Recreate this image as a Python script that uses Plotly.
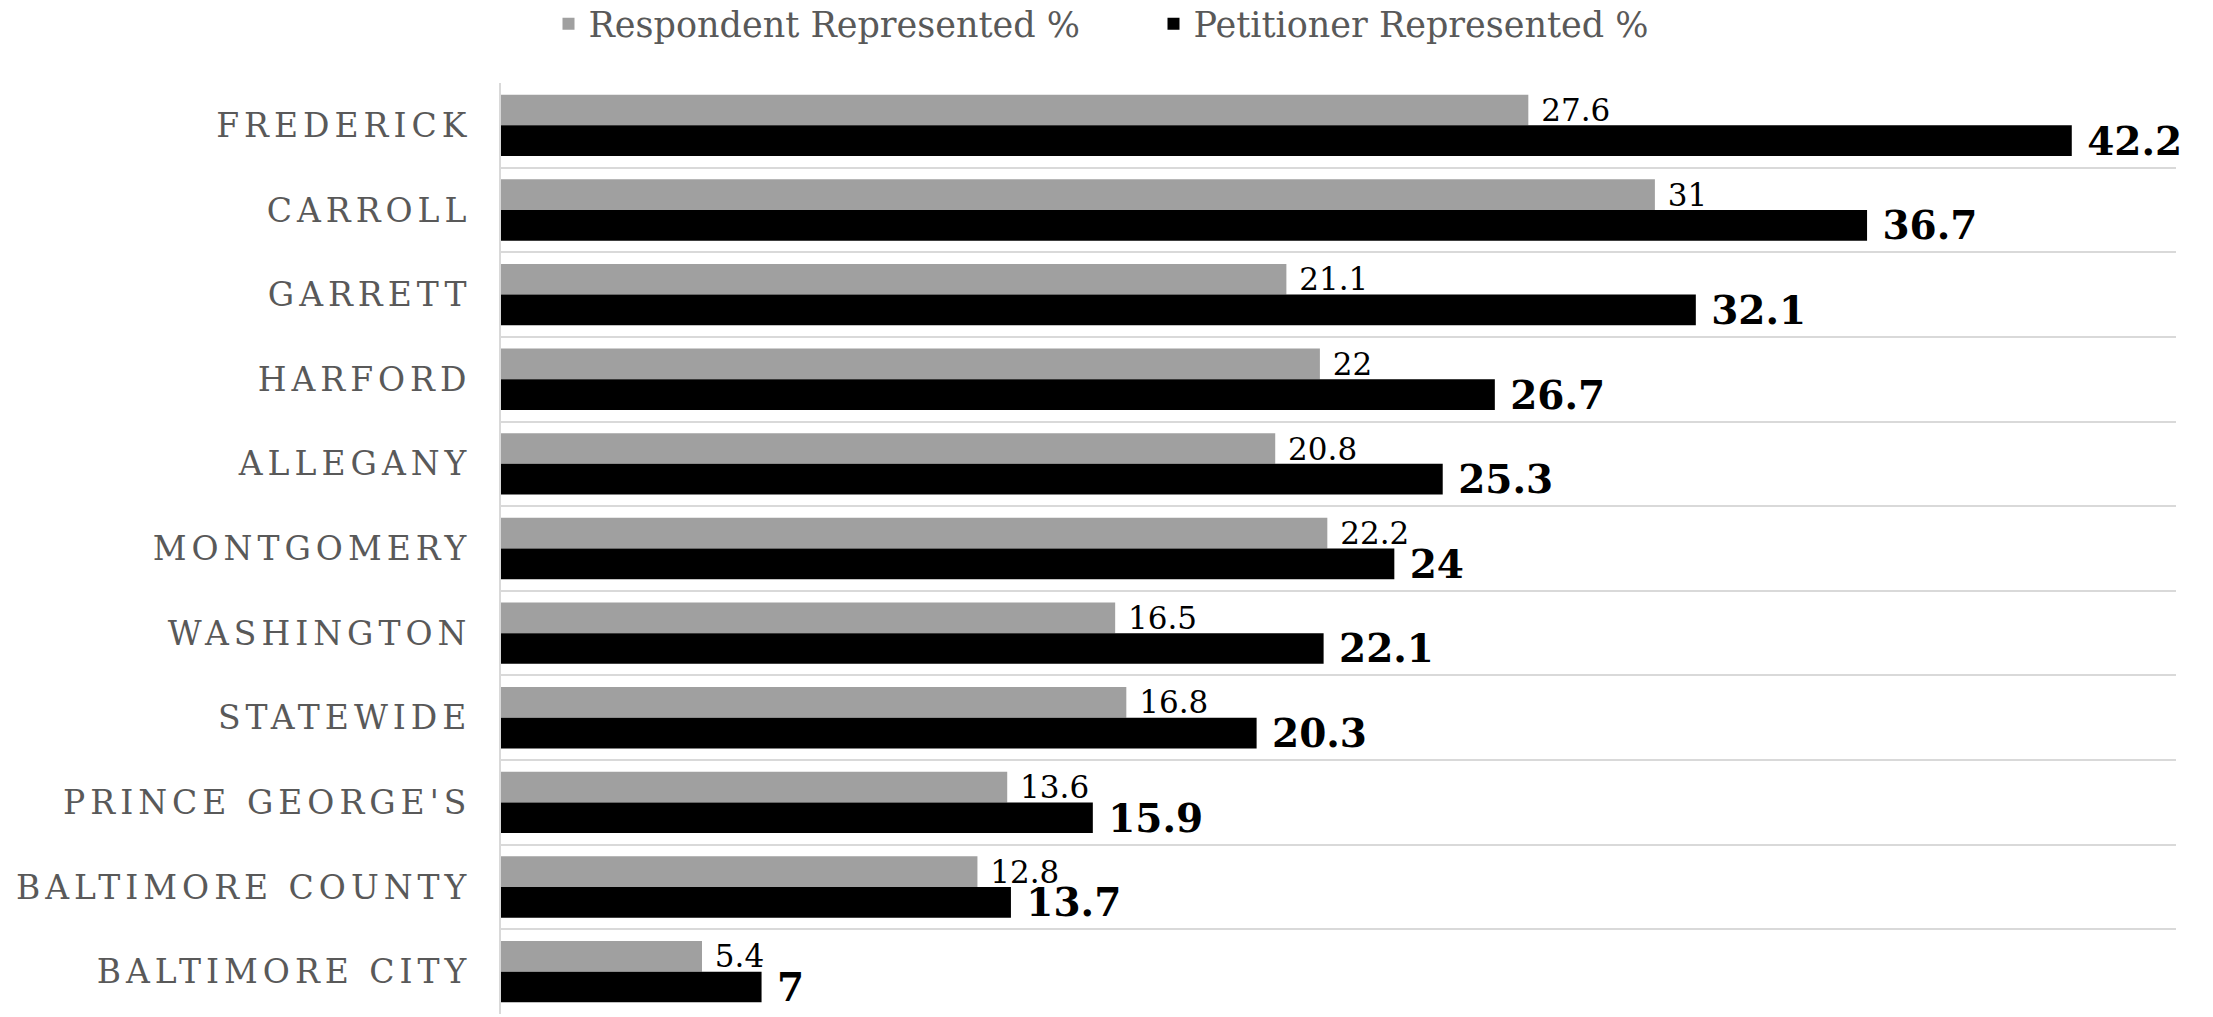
import plotly.graph_objects as go

counties = ["FREDERICK", "CARROLL", "GARRETT", "HARFORD", "ALLEGANY", "MONTGOMERY",
            "WASHINGTON", "STATEWIDE", "PRINCE GEORGE'S", "BALTIMORE COUNTY", "BALTIMORE CITY"]
respondent = [27.6, 31, 21.1, 22, 20.8, 22.2, 16.5, 16.8, 13.6, 12.8, 5.4]
petitioner = [42.2, 36.7, 32.1, 26.7, 25.3, 24, 22.1, 20.3, 15.9, 13.7, 7]

FONT = "DejaVu Serif"

fig = go.Figure()
fig.add_trace(go.Bar(
    y=counties, x=respondent, orientation="h", name="Respondent Represented %",
    marker=dict(color="#A0A0A0", line=dict(width=0)),
    texttemplate="\u00a0%{x}", textposition="outside", cliponaxis=False,
    constraintext="none",
    textfont=dict(family=FONT, size=31, color="#000000"),
))
fig.add_trace(go.Bar(
    y=counties, x=petitioner, orientation="h", name="Petitioner Represented %",
    marker=dict(color="#000000", line=dict(width=0)),
    texttemplate="\u00a0<b>%{x}</b>", textposition="outside", cliponaxis=False,
    constraintext="none",
    textfont=dict(family=FONT, size=39, color="#000000"),
))

fig.update_layout(
    width=2213, height=1017,
    paper_bgcolor="white", plot_bgcolor="white",
    margin=dict(l=501, r=37, t=83, b=3, autoexpand=False),
    barmode="group", bargap=0.275, bargroupgap=0,
    font=dict(family=FONT, color="#595959"),
    legend=dict(
        orientation="h", xref="container", yref="container",
        x=0.5 + 47 / 2213, xanchor="center", y=1 - 24 / 1017, yanchor="middle",
        font=dict(family=FONT, size=35, color="#595959"),
        traceorder="normal", itemclick=False, itemwidth=30,
        entrywidth=560, entrywidthmode="pixels",
    ),
    showlegend=True,
)
fig.update_xaxes(range=[0, 45], showgrid=False, showticklabels=False, zeroline=False,
                 showline=False, ticks="")
fig.update_yaxes(
    autorange="reversed", tickson="boundaries", showgrid=True, gridcolor="#D9D9D9",
    gridwidth=2, showline=True, linecolor="#D9D9D9", linewidth=2, ticks="",
    tickfont=dict(family=FONT, size=33, color="#595959"), ticklabelstandoff=21,
)

post = ("var gd=document.getElementById('{plot_id}');"
        "gd.querySelectorAll('.ytick text').forEach(function(t){t.style.letterSpacing='5px';});")
fig.write_html("out.html", post_script=post)
